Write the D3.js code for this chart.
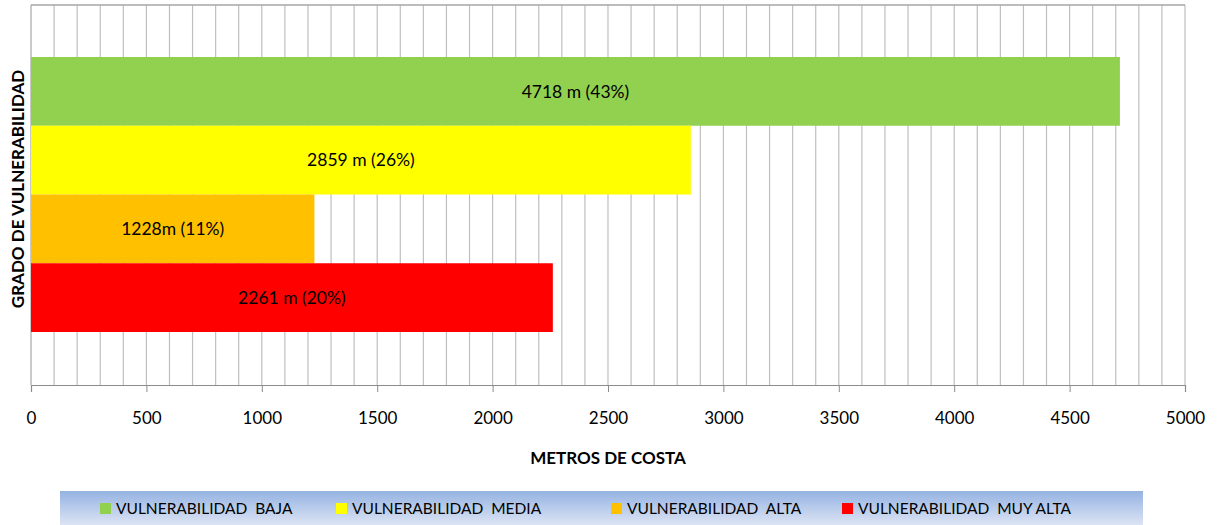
<!doctype html>
<html>
  <head>
    <meta charset="utf-8">
    <title>Grado de vulnerabilidad</title>
    <script src="https://cdnjs.cloudflare.com/ajax/libs/d3/7.8.5/d3.min.js"></script>
    <style>
      body { margin: 0; background: #fff; }
      text { font-family: Lato, "Open Sans", sans-serif; fill: #000; }
    </style>
  </head>
  <body>
    <div id="chart"></div>
    <script>
      // data
      const categories = ['VULNERABILIDAD  BAJA', 'VULNERABILIDAD  MEDIA', 'VULNERABILIDAD  ALTA', 'VULNERABILIDAD  MUY ALTA'];
      const values = [4718, 2859, 1228, 2261];
      const barLabels = ['4718 m (43%)', '2859 m (26%)', '1228m (11%)', '2261 m (20%)'];
      const colors = ['#92D050', '#FFFF00', '#FFC000', '#FF0000'];
      const xTicks = [0, 500, 1000, 1500, 2000, 2500, 3000, 3500, 4000, 4500, 5000];

      const width = 1218, height = 525;
      const margin = {top: 5, right: 33, bottom: 140, left: 31};

      const svg = d3.select('#chart').append('svg')
        .attr('width', width)
        .attr('height', height);

      const x = d3.scaleLinear()
        .domain([0, 5000])
        .range([margin.left, width - margin.right]);

      const y = d3.scaleBand()
        .domain(categories)
        .range([margin.top + 52, height - margin.bottom - 53])
        .padding(0);

      const yTop = margin.top, yBottom = height - margin.bottom;

      // minor gridlines every 100
      svg.append('g')
        .selectAll('line')
        .data(d3.range(100, 5001, 100))
        .join('line')
        .attr('x1', d => x(d)).attr('x2', d => x(d))
        .attr('y1', yTop).attr('y2', yBottom)
        .attr('stroke', '#bfbfbf')
        .attr('stroke-width', 1.2);

      // top border
      svg.append('line')
        .attr('x1', x(0)).attr('x2', x(5000))
        .attr('y1', yTop).attr('y2', yTop)
        .attr('stroke', '#a6a6a6').attr('stroke-width', 1.5);

      // left axis line
      svg.append('line')
        .attr('x1', x(0)).attr('x2', x(0))
        .attr('y1', yTop).attr('y2', yBottom)
        .attr('stroke', '#a6a6a6').attr('stroke-width', 1.2);

      // bars
      svg.append('g')
        .selectAll('rect')
        .data(values)
        .join('rect')
        .attr('x', x(0))
        .attr('y', (d, i) => y(categories[i]))
        .attr('width', d => x(d) - x(0))
        .attr('height', y.bandwidth())
        .attr('fill', (d, i) => colors[i]);

      svg.append('g')
        .selectAll('text')
        .data(values)
        .join('text')
        .attr('x', d => (x(0) + x(d)) / 2)
        .attr('y', (d, i) => y(categories[i]) + y.bandwidth() / 2)
        .attr('dy', '0.35em')
        .attr('text-anchor', 'middle')
        .style('font-size', '17.5px')
        .text((d, i) => barLabels[i]);

      // x axis
      const xAxis = svg.append('g')
        .attr('transform', `translate(0,${yBottom})`)
        .call(d3.axisBottom(x).tickValues(xTicks).tickSize(7).tickPadding(20).tickFormat(d3.format('d')));
      xAxis.select('.domain').attr('stroke', '#8c8c8c').attr('stroke-width', 1.2);
      xAxis.selectAll('.tick line').attr('stroke', '#8c8c8c');
      xAxis.selectAll('.tick text')
        .style('font-size', '17px')
        .style('font-family', 'Lato, "Open Sans", sans-serif');

      // axis titles
      svg.append('text')
        .attr('x', (x(0) + x(5000)) / 2)
        .attr('y', 464)
        .attr('text-anchor', 'middle')
        .style('font-size', '17px')
        .style('font-weight', 'bold')
        .text('METROS  DE  COSTA');

      svg.append('text')
        .attr('transform', `translate(24,189) rotate(-90)`)
        .attr('text-anchor', 'middle')
        .style('font-size', '17px')
        .style('font-weight', 'bold')
        .text('GRADO  DE VULNERABILIDAD');

      // legend with gradient background
      const defs = svg.append('defs');
      const grad = defs.append('linearGradient')
        .attr('id', 'legendGrad')
        .attr('x1', 0).attr('x2', 0).attr('y1', 0).attr('y2', 1);
      grad.append('stop').attr('offset', '0%').attr('stop-color', '#95B3E2');
      grad.append('stop').attr('offset', '100%').attr('stop-color', '#DCE4F4');

      svg.append('rect')
        .attr('x', 60).attr('y', 491)
        .attr('width', 1083).attr('height', 34)
        .attr('fill', 'url(#legendGrad)');

      const legendX = [100, 336, 611, 842];
      const legend = svg.append('g')
        .selectAll('g')
        .data(categories)
        .join('g')
        .attr('transform', (d, i) => `translate(${legendX[i]},503)`);
      legend.append('rect')
        .attr('width', 11).attr('height', 11)
        .attr('fill', (d, i) => colors[i]);
      legend.append('text')
        .attr('x', 16).attr('y', 6)
        .attr('dy', '0.35em')
        .style('font-size', '15.5px')
        .style('white-space', 'pre')
        .text(d => d);
    </script>
  </body>
</html>
